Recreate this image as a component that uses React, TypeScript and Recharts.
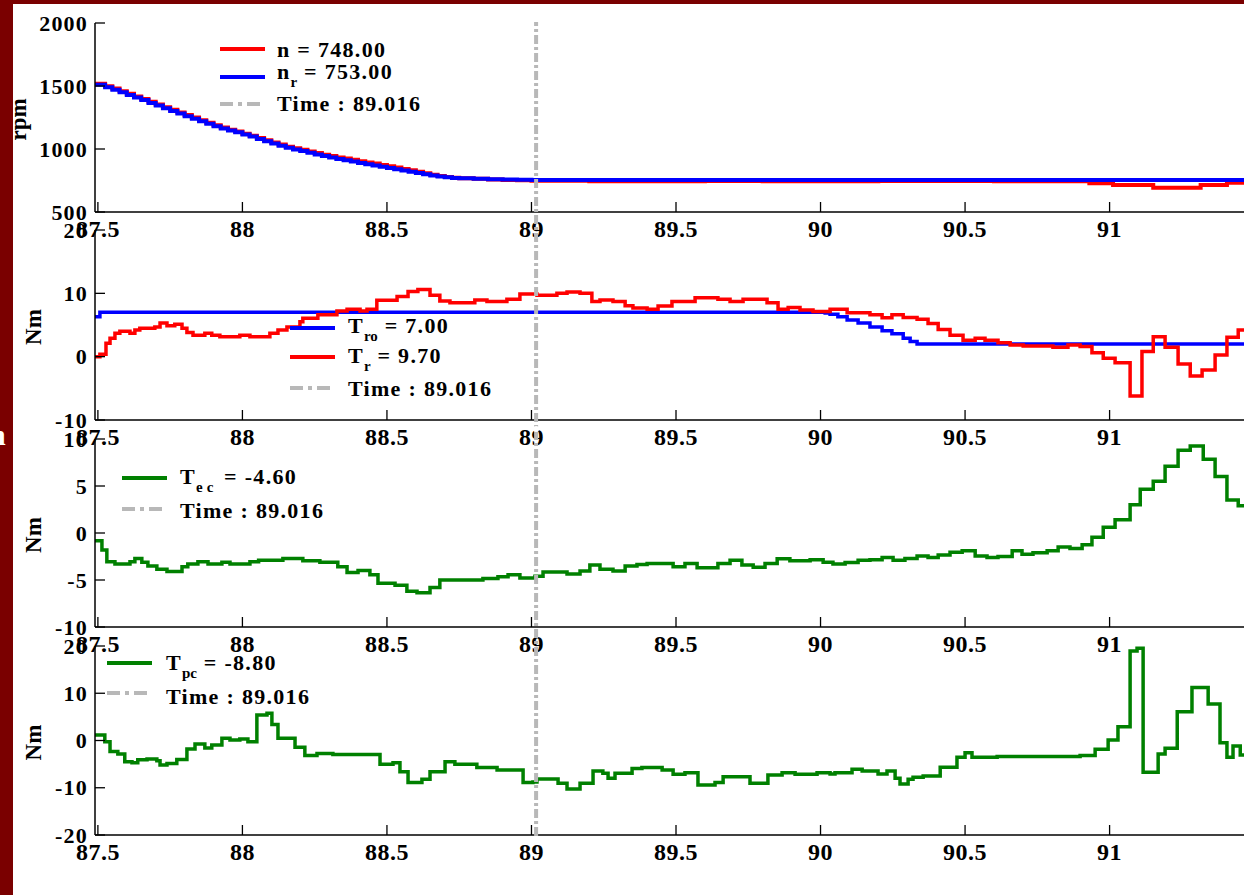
import React from 'react';
import { LineChart, Line, XAxis, YAxis, ReferenceLine } from 'recharts';

type Pt = [number, number];

const FONT = '"Liberation Serif", "Times New Roman", Times, serif';
const MAROON = '#7a0000';
const CURSOR_GREY = '#b8b8b8';

const X_DOMAIN: [number, number] = [87.49, 91.465];
const X_TICKS = [87.5, 88, 88.5, 89, 89.5, 90, 90.5, 91];
const CURSOR_TIME = 89.016;

const speedTicks = [500, 1000, 1500, 2000];
const rotorTicks = [-10, 0, 10, 20];
const ecTicks = [-10, -5, 0, 5, 10];
const pcTicks = [-20, -10, 0, 10, 20];

// speed n (rpm)
const nSteps: Pt[] = [
  [87.49, 1518], [87.525, 1498], [87.55, 1480], [87.575, 1458], [87.6, 1438], [87.625, 1416],
  [87.65, 1396], [87.675, 1375], [87.7, 1354], [87.725, 1332], [87.75, 1312], [87.775, 1290],
  [87.8, 1270], [87.825, 1250], [87.85, 1228], [87.875, 1208], [87.9, 1188], [87.925, 1170],
  [87.95, 1152], [87.975, 1138], [88.0, 1122], [88.025, 1106], [88.05, 1088], [88.075, 1070],
  [88.1, 1052], [88.125, 1035], [88.15, 1018], [88.175, 1005], [88.2, 994], [88.225, 981],
  [88.25, 968], [88.275, 955], [88.3, 944], [88.325, 932], [88.35, 924], [88.375, 914],
  [88.4, 903], [88.425, 893], [88.45, 884], [88.475, 874], [88.5, 864], [88.525, 853],
  [88.55, 842], [88.575, 832], [88.6, 820], [88.625, 808], [88.65, 796], [88.675, 786],
  [88.7, 778], [88.725, 772], [88.75, 768], [88.8, 763], [88.85, 758], [88.9, 754],
  [88.95, 751], [89.0, 748], [89.2, 745], [89.6, 747], [89.8, 745], [90.2, 747], [90.6, 745],
  [90.93, 728], [91.012, 714], [91.151, 693], [91.315, 714], [91.406, 733], [91.465, 733],
];

// speed reference n_r (rpm)
const nrSteps: Pt[] = [
  [87.49, 1510], [87.525, 1490], [87.55, 1470], [87.575, 1450], [87.6, 1428], [87.625, 1408],
  [87.65, 1388], [87.675, 1366], [87.7, 1345], [87.725, 1323], [87.75, 1302], [87.775, 1281],
  [87.8, 1260], [87.825, 1240], [87.85, 1220], [87.875, 1200], [87.9, 1180], [87.925, 1162],
  [87.95, 1146], [87.975, 1132], [88.0, 1116], [88.025, 1100], [88.05, 1080], [88.075, 1061],
  [88.1, 1043], [88.125, 1026], [88.15, 1009], [88.175, 996], [88.2, 985], [88.225, 971],
  [88.25, 957], [88.275, 944], [88.3, 932], [88.325, 920], [88.35, 911], [88.375, 900],
  [88.4, 889], [88.425, 879], [88.45, 869], [88.475, 859], [88.5, 849], [88.525, 839],
  [88.55, 829], [88.575, 819], [88.6, 809], [88.625, 799], [88.65, 789], [88.675, 781],
  [88.7, 775], [88.725, 770], [88.75, 767], [88.8, 763], [88.85, 760], [88.9, 757],
  [88.95, 755], [89.0, 753], [91.465, 753],
];

// T_ro (Nm)
const troSteps: Pt[] = [
  [87.49, 6.3], [87.507, 7.0], [90.0, 7.0], [90.016, 6.9], [90.033, 6.7], [90.06, 6.3],
  [90.092, 5.8], [90.13, 5.3], [90.171, 4.7], [90.213, 4.1], [90.247, 3.6], [90.286, 2.9],
  [90.31, 2.4], [90.334, 2.0], [91.465, 2.0],
];

// T_r (Nm)
const trSteps: Pt[] = [
  [87.49, 0.0], [87.507, 0.4], [87.528, 2.1], [87.542, 2.9], [87.559, 3.7], [87.576, 4.0],
  [87.611, 3.7], [87.628, 4.2], [87.645, 4.5], [87.697, 4.7], [87.715, 5.3], [87.739, 4.9],
  [87.766, 5.1], [87.791, 4.5], [87.808, 3.8], [87.829, 3.4], [87.87, 3.7], [87.894, 3.4],
  [87.922, 3.15], [87.991, 3.4], [88.026, 3.15], [88.095, 3.7], [88.123, 4.2], [88.154, 4.7],
  [88.199, 5.5], [88.209, 6.05], [88.261, 6.6], [88.327, 7.2], [88.362, 7.5], [88.407, 7.2],
  [88.431, 7.5], [88.465, 8.9], [88.535, 9.5], [88.573, 10.3], [88.607, 10.6], [88.649, 9.7],
  [88.683, 8.8], [88.718, 8.5], [88.804, 8.95], [88.846, 8.7], [88.915, 9.05], [88.96, 9.9],
  [89.019, 9.7], [89.088, 10.0], [89.123, 10.2], [89.168, 10.0], [89.209, 8.7], [89.237, 8.95],
  [89.282, 8.7], [89.324, 8.05], [89.351, 7.7], [89.4, 7.5], [89.438, 8.0], [89.486, 8.7],
  [89.566, 9.3], [89.645, 9.05], [89.687, 8.7], [89.732, 9.05], [89.815, 8.5], [89.853, 7.5],
  [89.888, 7.75], [89.929, 7.35], [89.974, 7.15], [90.033, 7.5], [90.092, 6.95], [90.171, 6.6],
  [90.213, 6.15], [90.247, 6.6], [90.286, 6.2], [90.334, 5.9], [90.372, 5.25], [90.407, 4.3],
  [90.448, 3.4], [90.493, 2.6], [90.535, 2.9], [90.569, 2.6], [90.614, 2.2], [90.656, 1.85],
  [90.701, 1.7], [90.804, 1.5], [90.856, 1.85], [90.898, 1.6], [90.939, 0.6], [90.978, -0.25],
  [91.019, -0.95], [91.071, -6.2], [91.112, 0.8], [91.151, 3.15], [91.192, 1.5], [91.237, -1.15],
  [91.279, -3.05], [91.32, -2.1], [91.365, 0.25], [91.406, 3.05], [91.445, 4.2], [91.465, 4.2],
];

// T_ec (Nm)
const tecSteps: Pt[] = [
  [87.49, -0.82], [87.514, -1.8], [87.531, -3.05], [87.559, -3.3], [87.611, -3.05], [87.628, -2.7],
  [87.652, -3.1], [87.673, -3.5], [87.704, -3.85], [87.739, -4.1], [87.791, -3.6], [87.811, -3.3],
  [87.846, -3.05], [87.881, -3.3], [87.929, -3.1], [87.957, -3.3], [88.026, -3.05], [88.056, -2.9],
  [88.14, -2.7], [88.209, -2.95], [88.268, -3.1], [88.33, -3.6], [88.362, -4.2], [88.4, -4.0],
  [88.441, -4.45], [88.469, -5.35], [88.528, -5.55], [88.569, -6.2], [88.604, -6.35], [88.649, -5.8],
  [88.683, -5.0], [88.832, -4.85], [88.884, -4.65], [88.919, -4.45], [88.96, -4.8], [89.012, -4.6],
  [89.04, -4.15], [89.123, -4.35], [89.168, -4.05], [89.202, -3.4], [89.237, -3.85], [89.282, -4.05],
  [89.324, -3.5], [89.365, -3.35], [89.4, -3.25], [89.49, -3.6], [89.531, -3.25], [89.573, -3.7],
  [89.645, -3.25], [89.687, -2.9], [89.728, -3.4], [89.767, -3.65], [89.808, -3.25], [89.85, -2.75],
  [89.894, -2.95], [89.964, -2.85], [90.009, -3.1], [90.043, -3.3], [90.085, -3.15], [90.13, -2.9],
  [90.171, -2.85], [90.213, -2.6], [90.251, -2.9], [90.292, -2.7], [90.334, -2.45], [90.372, -2.6],
  [90.407, -2.35], [90.448, -2.05], [90.49, -1.9], [90.535, -2.45], [90.576, -2.6], [90.614, -2.5],
  [90.663, -1.9], [90.697, -2.25], [90.735, -2.1], [90.784, -1.9], [90.822, -1.5], [90.863, -1.65],
  [90.905, -1.25], [90.939, -0.45], [90.978, 0.6], [91.019, 1.4], [91.071, 3.0], [91.106, 4.65],
  [91.151, 5.5], [91.192, 7.1], [91.237, 8.8], [91.279, 9.25], [91.324, 7.85], [91.365, 6.0],
  [91.406, 3.5], [91.445, 2.9], [91.465, 2.9],
];

// T_pc (Nm)
const tpcSteps: Pt[] = [
  [87.49, 1.15], [87.524, -0.25], [87.542, -2.35], [87.569, -2.85], [87.593, -4.5], [87.618, -4.7],
  [87.638, -4.1], [87.67, -3.9], [87.704, -4.3], [87.715, -5.2], [87.739, -4.85], [87.773, -4.0],
  [87.808, -1.8], [87.836, -0.75], [87.87, -1.6], [87.894, -0.95], [87.929, 0.45], [87.957, 0.1],
  [87.991, 0.3], [88.019, -0.25], [88.05, 5.4], [88.085, 5.75], [88.102, 3.4], [88.123, 0.45],
  [88.182, -1.45], [88.216, -3.2], [88.258, -2.75], [88.313, -2.95], [88.476, -5.05], [88.521, -4.7],
  [88.545, -6.6], [88.573, -8.9], [88.621, -8.2], [88.649, -6.6], [88.701, -4.5], [88.735, -5.0],
  [88.811, -5.7], [88.881, -6.25], [88.971, -8.9], [89.005, -8.8], [89.019, -8.15], [89.092, -9.05],
  [89.123, -10.25], [89.168, -9.05], [89.213, -6.45], [89.247, -6.95], [89.265, -8.0], [89.289, -6.95],
  [89.348, -5.9], [89.382, -5.7], [89.452, -6.25], [89.49, -7.15], [89.531, -6.85], [89.576, -9.4],
  [89.635, -8.9], [89.663, -7.65], [89.756, -9.05], [89.818, -7.3], [89.867, -6.85], [89.912, -7.15],
  [89.988, -6.85], [90.009, -6.8], [90.033, -7.1], [90.05, -6.8], [90.109, -6.1], [90.144, -6.45],
  [90.199, -7.1], [90.23, -6.45], [90.258, -8.0], [90.275, -9.2], [90.303, -8.2], [90.32, -7.8],
  [90.355, -7.5], [90.414, -5.65], [90.472, -3.55], [90.5, -2.6], [90.524, -3.55], [90.611, -3.4],
  [90.898, -3.2], [90.95, -1.85], [90.995, 0.1], [91.029, 2.9], [91.071, 18.95], [91.095, 19.5],
  [91.116, -6.7], [91.168, -2.85], [91.192, -1.65], [91.234, 6.1], [91.285, 11.2], [91.341, 7.7],
  [91.382, -0.45], [91.406, -3.55], [91.427, -1.15], [91.452, -3.05], [91.465, -3.05],
];

const rows = (pts: Pt[]) => pts.map(([t, v]) => ({ t, v }));

function XTick({ x, y, payload }: any) {
  return (
    <g>
      <line x1={x} y1={y} x2={x} y2={y - 10} stroke="#000" strokeWidth={1.3} />
      <text x={x} y={y + 25} textAnchor="middle" fontSize={24} fontWeight="bold"
            fontFamily={FONT} fill="#000" letterSpacing={0.5}>
        {payload.value}
      </text>
    </g>
  );
}

function YTick({ x, y, payload }: any) {
  return (
    <g>
      <line x1={x} y1={y} x2={x + 10} y2={y} stroke="#000" strokeWidth={1.3} />
      <text x={x - 7} y={y} textAnchor="end" dominantBaseline="central" fontSize={22}
            fontWeight="bold" fontFamily={FONT} fill="#000" letterSpacing={1.2}>
        {payload.value}
      </text>
    </g>
  );
}

interface Series {
  name: string;
  data: Pt[];
  color: string;
  width: number;
}

interface PanelProps {
  plotTop: number;
  plotHeight: number;
  domain: [number, number];
  ticks: number[];
  title: string;
  titleX: number;
  series: Series[];
}

const PAD_TOP = 20;

function Panel({ plotTop, plotHeight, domain, ticks, title, titleX, series }: PanelProps) {
  const titleY = PAD_TOP + plotHeight / 2 + 2;
  return (
    <div style={{ position: 'absolute', left: 0, top: plotTop - PAD_TOP }}>
      <LineChart width={1244} height={plotHeight + PAD_TOP + 40}
                 margin={{ top: PAD_TOP, right: 0, bottom: 10, left: 15 }}>
        <XAxis dataKey="t" type="number" domain={X_DOMAIN} ticks={X_TICKS} allowDataOverflow
               height={30} tickSize={0} tickMargin={0} tickLine={false} tick={<XTick />}
               axisLine={{ stroke: '#000', strokeWidth: 1.5 }} />
        <YAxis type="number" domain={domain} ticks={ticks} allowDataOverflow width={80}
               tickSize={0} tickMargin={0} tickLine={false} tick={<YTick />}
               axisLine={{ stroke: '#000', strokeWidth: 1.5 }}
               label={() => (
                 <text x={titleX} y={titleY} transform={`rotate(-90 ${titleX} ${titleY})`}
                       textAnchor="middle" dominantBaseline="central" fontSize={23}
                       fontWeight="bold" fontFamily={FONT} fill="#000">
                   {title}
                 </text>
               )} />
        {series.map((s) => (
          <Line key={s.name} data={rows(s.data)} dataKey="v" type="stepAfter" stroke={s.color}
                strokeWidth={s.width} dot={false} activeDot={false} isAnimationActive={false} />
        ))}
      </LineChart>
    </div>
  );
}

function LegendRow({ lineX, lineY, textX, textY, color, cursor, children }: any) {
  return (
    <>
      <svg width={46} height={8}
           style={{ position: 'absolute', left: lineX, top: lineY - 4, overflow: 'visible' }}>
        <line x1={0} y1={4} x2={45} y2={4} stroke={color} strokeWidth={4}
              strokeDasharray={cursor ? '13 5 4 5' : undefined} />
      </svg>
      <div style={{
        position: 'absolute', left: textX, top: textY - 11, fontSize: 22, lineHeight: '22px',
        fontWeight: 'bold', fontFamily: FONT, whiteSpace: 'nowrap', letterSpacing: 1.3, color: '#000',
      }}>
        {children}
      </div>
    </>
  );
}

const Sub = ({ children, spacing = 0 }: any) => (
  <span style={{ fontSize: 15, position: 'relative', top: 8, letterSpacing: spacing }}>{children}</span>
);

const cursorRows = [{ t: CURSOR_TIME, v: 0 }];

export default function App() {
  return (
    <div style={{
      position: 'absolute', left: 0, top: 0, width: 1244, height: 895, overflow: 'hidden',
      background: MAROON, fontFamily: FONT,
    }}>
      <div style={{ position: 'absolute', left: 13, top: 4, right: 0, bottom: 0, background: '#fff' }} />
      <div style={{
        position: 'absolute', left: -11, top: 418, color: '#fff', fontSize: 30,
        fontWeight: 'bold', fontFamily: FONT,
      }}>n</div>

      <Panel plotTop={23} plotHeight={189} domain={[500, 2000]} ticks={speedTicks}
             title="rpm" titleX={18}
             series={[
               { name: 'n', data: nSteps, color: '#ff0000', width: 4 },
               { name: 'nr', data: nrSteps, color: '#0000ff', width: 4 },
             ]} />
      <Panel plotTop={230} plotHeight={190} domain={[-10, 20]} ticks={rotorTicks}
             title="Nm" titleX={33}
             series={[
               { name: 'Tro', data: troSteps, color: '#0000ff', width: 3.5 },
               { name: 'Tr', data: trSteps, color: '#ff0000', width: 3.5 },
             ]} />
      <Panel plotTop={439} plotHeight={188} domain={[-10, 10]} ticks={ecTicks}
             title="Nm" titleX={33}
             series={[{ name: 'Tec', data: tecSteps, color: '#008000', width: 3.5 }]} />
      <Panel plotTop={646} plotHeight={189} domain={[-20, 20]} ticks={pcTicks}
             title="Nm" titleX={33}
             series={[{ name: 'Tpc', data: tpcSteps, color: '#008000', width: 3.5 }]} />

      {/* time cursor across all four panels */}
      <div style={{ position: 'absolute', left: 0, top: 0 }}>
        <LineChart width={1244} height={840} data={cursorRows}
                   margin={{ top: 22, right: 0, bottom: 4, left: 95 }}>
          <XAxis dataKey="t" type="number" domain={X_DOMAIN} allowDataOverflow hide />
          <YAxis type="number" domain={[-1, 1]} hide />
          <Line dataKey="v" stroke="none" dot={false} activeDot={false} isAnimationActive={false} />
          <ReferenceLine x={CURSOR_TIME} stroke={CURSOR_GREY} strokeWidth={4}
                         strokeDasharray="9 3 3 3" />
        </LineChart>
      </div>

      <LegendRow lineX={220} lineY={49} textX={277} textY={50} color="#ff0000">n = 748.00</LegendRow>
      <LegendRow lineX={220} lineY={77} textX={277} textY={72} color="#0000ff">
        n<Sub>r</Sub> = 753.00
      </LegendRow>
      <LegendRow lineX={220} lineY={104} textX={277} textY={104} color={CURSOR_GREY} cursor>
        Time : 89.016
      </LegendRow>

      <LegendRow lineX={290} lineY={328} textX={348} textY={326} color="#0000ff">
        T<Sub>ro</Sub> = 7.00
      </LegendRow>
      <LegendRow lineX={290} lineY={357} textX={348} textY={356} color="#ff0000">
        T<Sub>r</Sub> = 9.70
      </LegendRow>
      <LegendRow lineX={290} lineY={388} textX={348} textY={389} color={CURSOR_GREY} cursor>
        Time : 89.016
      </LegendRow>

      <LegendRow lineX={122} lineY={478} textX={180} textY={477} color="#008000">
        T<Sub spacing={4}>ec</Sub> = -4.60
      </LegendRow>
      <LegendRow lineX={122} lineY={509} textX={180} textY={511} color={CURSOR_GREY} cursor>
        Time : 89.016
      </LegendRow>

      <LegendRow lineX={107} lineY={663} textX={166} textY={663} color="#008000">
        T<Sub>pc</Sub> = -8.80
      </LegendRow>
      <LegendRow lineX={107} lineY={693} textX={166} textY={697} color={CURSOR_GREY} cursor>
        Time : 89.016
      </LegendRow>
    </div>
  );
}
